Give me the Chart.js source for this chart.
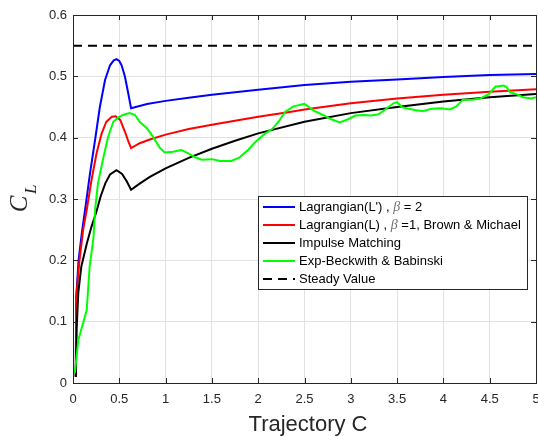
<!DOCTYPE html>
<html>
<head>
<meta charset="utf-8">
<script src="https://cdn.jsdelivr.net/npm/chart.js@4.4.1/dist/chart.umd.min.js"></script>
<style>
  html, body { margin: 0; padding: 0; background: #fff; overflow: hidden; }
  canvas { display: block; }
</style>
</head>
<body>
<canvas id="grafico" width="545" height="436"></canvas>
<script>
// tick values and labels
const xTicks = [0, 0.5, 1, 1.5, 2, 2.5, 3, 3.5, 4, 4.5, 5];
const xTickLabels = ['0', '0.5', '1', '1.5', '2', '2.5', '3', '3.5', '4', '4.5', '5'];
const yTicks = [0, 0.1, 0.2, 0.3, 0.4, 0.5, 0.6];
const yTickLabels = ['0', '0.1', '0.2', '0.3', '0.4', '0.5', '0.6'];

const seriesNames = [
  "Lagrangian(L') , β = 2",
  "Lagrangian(L) , β =1, Brown & Michael",
  "Impulse Matching",
  "Exp-Beckwith & Babinski",
  "Steady Value"
];

// Lagrangian(L'), beta = 2
const blueX = [0.03, 0.035, 0.06, 0.1, 0.13, 0.184, 0.238, 0.29, 0.346, 0.40, 0.44, 0.47, 0.50, 0.525, 0.56, 0.597, 0.627, 0.8, 1.0, 1.25, 1.5, 2.0, 2.5, 3.0, 3.5, 4.0, 4.5, 5.0];
const blueY = [0.01, 0.14, 0.2, 0.25, 0.282, 0.342, 0.396, 0.45, 0.494, 0.518, 0.526, 0.528, 0.525, 0.518, 0.50, 0.472, 0.448, 0.455, 0.46, 0.465, 0.47, 0.478, 0.486, 0.491, 0.495, 0.499, 0.502, 0.504];

// Lagrangian(L), beta = 1, Brown & Michael
const redX = [0.03, 0.035, 0.07, 0.11, 0.148, 0.20, 0.255, 0.31, 0.36, 0.42, 0.46, 0.51, 0.56, 0.60, 0.627, 0.72, 0.83, 1.0, 1.25, 1.53, 2.0, 2.34, 2.5, 3.0, 3.5, 4.0, 4.5, 5.0];
const redY = [0.01, 0.14, 0.2, 0.25, 0.282, 0.331, 0.375, 0.407, 0.426, 0.434, 0.435, 0.429, 0.41, 0.393, 0.383, 0.391, 0.397, 0.405, 0.414, 0.422, 0.434, 0.442, 0.446, 0.456, 0.464, 0.470, 0.475, 0.479];

// Impulse Matching
const blackX = [0.03, 0.04, 0.057, 0.09, 0.15, 0.2, 0.25, 0.3, 0.35, 0.4, 0.47, 0.53, 0.58, 0.627, 0.72, 0.83, 1.0, 1.25, 1.5, 1.75, 2.0, 2.5, 3.0, 3.5, 4.0, 4.5, 5.0];
const blackY = [0.01, 0.09, 0.147, 0.19, 0.228, 0.255, 0.278, 0.305, 0.326, 0.34, 0.347, 0.341, 0.329, 0.315, 0.325, 0.336, 0.35, 0.367, 0.382, 0.395, 0.407, 0.426, 0.44, 0.45, 0.459, 0.466, 0.471];

// Exp-Beckwith & Babinski
const greenX = [0.02, 0.057, 0.11, 0.148, 0.18, 0.22, 0.24, 0.27, 0.33, 0.38, 0.435, 0.49, 0.54, 0.61, 0.67, 0.72, 0.80, 0.87, 0.94, 0.99, 1.08, 1.17, 1.25, 1.32, 1.39, 1.50, 1.59, 1.71, 1.80, 1.89, 1.97, 2.06, 2.15, 2.22, 2.29, 2.38, 2.50, 2.60, 2.70, 2.79, 2.88, 2.97, 3.05, 3.14, 3.22, 3.30, 3.39, 3.46, 3.50, 3.55, 3.60, 3.69, 3.78, 3.87, 3.98, 4.07, 4.14, 4.21, 4.31, 4.40, 4.49, 4.56, 4.65, 4.68, 4.72, 4.79, 4.86, 4.95, 5.0];
const greenY = [0.016, 0.07, 0.098, 0.119, 0.19, 0.235, 0.285, 0.326, 0.369, 0.402, 0.426, 0.433, 0.437, 0.44, 0.437, 0.426, 0.415, 0.400, 0.383, 0.376, 0.377, 0.38, 0.374, 0.368, 0.364, 0.365, 0.362, 0.362, 0.368, 0.38, 0.393, 0.405, 0.414, 0.426, 0.442, 0.451, 0.455, 0.444, 0.437, 0.430, 0.425, 0.430, 0.436, 0.437, 0.436, 0.438, 0.448, 0.456, 0.458, 0.450, 0.448, 0.445, 0.443, 0.447, 0.448, 0.446, 0.451, 0.462, 0.462, 0.464, 0.471, 0.483, 0.485, 0.483, 0.474, 0.471, 0.466, 0.464, 0.466];

// Steady Value
const steadyX = [0, 5];
const steadyY = [0.55, 0.55];

const colores = ['#0000ff', '#ff0000', '#000000', '#00ff00', '#000000'];
const guiones = [[], [], [], [], [9, 6]];

function puntos(xs, ys) {
  return xs.map((x, i) => ({ x: x, y: ys[i] }));
}

const ejeColor = '#262626';
const sans = "'Liberation Sans', Arial, Helvetica, sans-serif";
const serif = "'Liberation Serif', 'Times New Roman', serif";

// frame, inner ticks, legend and axis titles
const marcos = {
  id: 'marcos',
  afterDatasetsDraw(chart) {
    const ctx = chart.ctx;
    const a = chart.chartArea;
    const sx = chart.scales.x, sy = chart.scales.y;
    ctx.save();
    ctx.strokeStyle = ejeColor;
    ctx.lineWidth = 1;
    ctx.beginPath();
    xTicks.forEach(v => {
      const p = Math.round(sx.getPixelForValue(v)) + 0.5;
      ctx.moveTo(p, a.bottom); ctx.lineTo(p, a.bottom - 5);
      ctx.moveTo(p, a.top); ctx.lineTo(p, a.top + 5);
    });
    yTicks.forEach(v => {
      const p = Math.round(sy.getPixelForValue(v)) + 0.5;
      ctx.moveTo(a.left, p); ctx.lineTo(a.left + 5, p);
      ctx.moveTo(a.right, p); ctx.lineTo(a.right - 5, p);
    });
    ctx.stroke();
    ctx.strokeRect(Math.round(a.left) + 0.5, Math.round(a.top) + 0.5,
      Math.round(a.right - a.left), Math.round(a.bottom - a.top));
    ctx.restore();
  },
  afterDraw(chart) {
    const ctx = chart.ctx;
    ctx.save();

    // legend
    const bx = 258, by = 196, bw = 269, bh = 93;
    ctx.fillStyle = '#ffffff';
    ctx.fillRect(bx, by, bw, bh);
    ctx.strokeStyle = '#262626';
    ctx.lineWidth = 1;
    ctx.strokeRect(bx + 0.5, by + 0.5, bw, bh);
    seriesNames.forEach((nombre, i) => {
      const yy = 207 + i * 18;
      ctx.strokeStyle = colores[i];
      ctx.lineWidth = 2;
      ctx.setLineDash(guiones[i]);
      ctx.beginPath();
      ctx.moveTo(263, yy); ctx.lineTo(295, yy);
      ctx.stroke();
      ctx.setLineDash([]);
      ctx.textBaseline = 'middle';
      ctx.textAlign = 'left';
      let x = 299;
      const trozos = nombre.split('β');
      trozos.forEach((t, k) => {
        ctx.font = '13px ' + sans;
        ctx.fillStyle = '#000000';
        ctx.fillText(t, x, yy);
        x += ctx.measureText(t).width;
        if (k < trozos.length - 1) {
          ctx.font = 'italic 14px ' + serif;
          ctx.fillStyle = '#707070';
          ctx.fillText('β', x, yy);
          x += ctx.measureText('β').width;
        }
      });
    });

    // x title
    ctx.fillStyle = ejeColor;
    ctx.font = '22px ' + sans;
    ctx.textAlign = 'center';
    ctx.textBaseline = 'alphabetic';
    ctx.fillText('Trajectory C', 308, 431);

    // y title C_L
    ctx.save();
    ctx.translate(27, 204);
    ctx.rotate(-Math.PI / 2);
    ctx.textAlign = 'center';
    ctx.font = 'italic 25px ' + serif;
    ctx.fillText('C', 0, 0);
    ctx.textAlign = 'left';
    ctx.font = 'italic 17px ' + serif;
    ctx.fillText('L', 10, 9);
    ctx.restore();

    ctx.restore();
  }
};

const graph = document.getElementById('grafico');
const datos = [
  [blueX, blueY], [redX, redY], [blackX, blackY], [greenX, greenY], [steadyX, steadyY]
];

const myChart = new Chart(graph, {
  type: 'line',
  data: {
    datasets: datos.map((d, i) => ({
      label: seriesNames[i],
      data: puntos(d[0], d[1]),
      borderColor: colores[i],
      borderDash: guiones[i],
      borderWidth: 2,
      pointRadius: 0,
      tension: 0,
      fill: false,
      order: 5 - i
    }))
  },
  options: {
    responsive: false,
    animation: false,
    devicePixelRatio: 1,
    layout: { padding: { left: 0, top: 15, right: 9, bottom: 0 } },
    plugins: { legend: { display: false }, tooltip: { enabled: false } },
    scales: {
      x: {
        type: 'linear',
        min: 0, max: 5,
        afterBuildTicks: s => { s.ticks = xTicks.map(v => ({ value: v })); },
        afterFit: s => { s.height = 53; s.paddingLeft = 0; s.paddingRight = 0; },
        ticks: {
          callback: (v, i) => xTickLabels[i],
          font: { family: sans, size: 13 },
          color: ejeColor,
          padding: 9,
          maxRotation: 0,
          autoSkip: false
        },
        grid: { color: '#e2e2e2', drawTicks: false },
        border: { display: false }
      },
      y: {
        type: 'linear',
        min: 0, max: 0.6,
        afterBuildTicks: s => { s.ticks = yTicks.map(v => ({ value: v })); },
        afterFit: s => { s.width = 73; s.paddingTop = 0; s.paddingBottom = 0; },
        ticks: {
          callback: (v, i) => yTickLabels[i],
          font: { family: sans, size: 13 },
          color: ejeColor,
          padding: 6,
          autoSkip: false
        },
        grid: { color: '#e2e2e2', drawTicks: false },
        border: { display: false }
      }
    }
  },
  plugins: [marcos]
});
</script>
</body>
</html>
